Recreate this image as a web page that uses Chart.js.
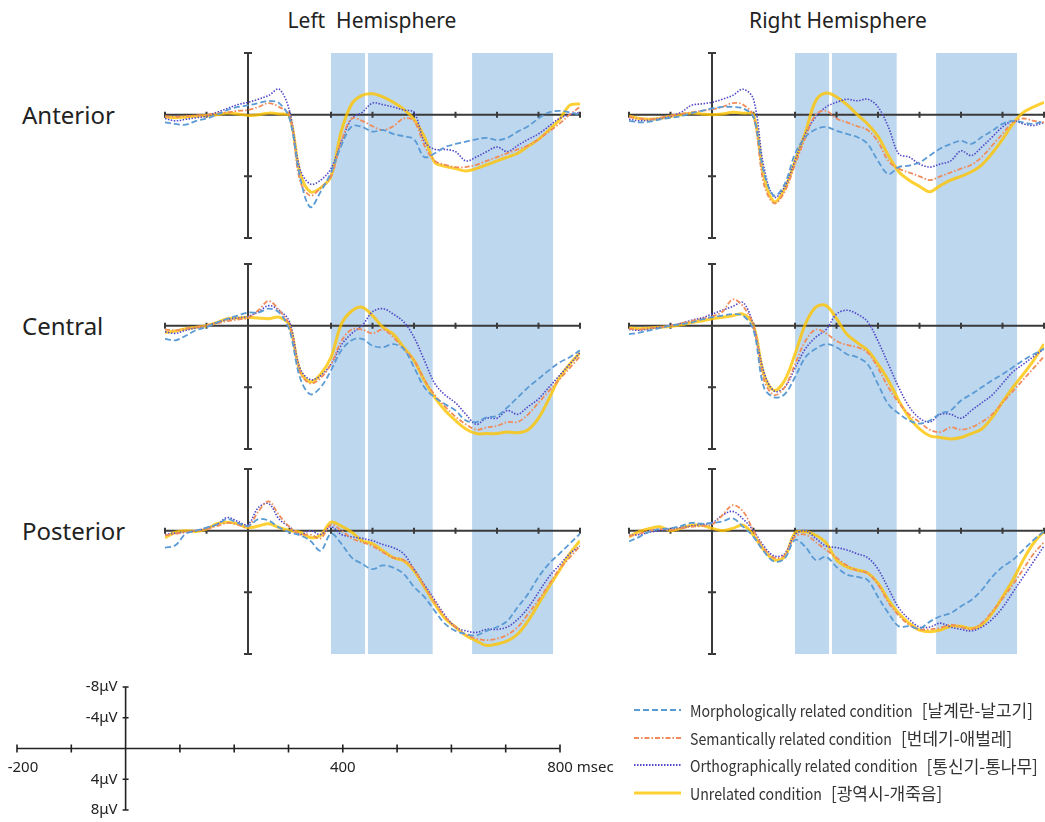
<!DOCTYPE html>
<html>
<head>
<meta charset="utf-8">
<script src="https://cdn.jsdelivr.net/npm/chart.js@4.4.1/dist/chart.umd.min.js"></script>
<style>
  body { margin: 0; width: 1045px; height: 822px; overflow: hidden; background: #fff; position: relative; font-family: "Noto Sans", sans-serif; color: #222; }
  .title { position: absolute; top: 20px; font-size: 21px; line-height: 1; white-space: pre; transform: translate(-50%, -50%); }
  .row { position: absolute; left: 22px; font-size: 24px; line-height: 1; transform: translateY(-50%); }
  canvas.panel { position: absolute; }
  #legend { position: absolute; left: 634px; top: 696px; font-family: "Noto Sans CJK KR", sans-serif; font-size: 16px; color: #333; }
  #legend .item { height: 27.7px; display: flex; align-items: center; white-space: nowrap; }
  #legend canvas { margin-right: 9px; }
  #legend .en { display: inline-block; transform-origin: left center; }
  #legend .ko { font-family: "Noto Sans CJK KR", sans-serif; font-size: 17px; margin-left: 9px; }
</style>
</head>
<body>
<div class="title" style="left:372px">Left  Hemisphere</div>
<div class="title" style="left:838px">Right Hemisphere</div>
<div class="row" style="top:115px">Anterior</div>
<div class="row" style="top:326px">Central</div>
<div class="row" style="top:531px">Posterior</div>

<canvas class="panel" id="la" width="431" height="206" style="left:157px;top:45px"></canvas>
<canvas class="panel" id="ra" width="431" height="206" style="left:621px;top:45px"></canvas>
<canvas class="panel" id="lc" width="431" height="208" style="left:157px;top:251px"></canvas>
<canvas class="panel" id="rc" width="431" height="208" style="left:621px;top:251px"></canvas>
<canvas class="panel" id="lp" width="431" height="203" style="left:157px;top:459px"></canvas>
<canvas class="panel" id="rp" width="431" height="203" style="left:621px;top:459px"></canvas>
<canvas class="panel" id="scale" width="620" height="152" style="left:0px;top:670px"></canvas>
<div id="legend"></div>

<script>
// time points (ms)
const times = [-200,-175,-150,-125,-100,-75,-50,-25,0,25,50,75,100,125,150,175,200,225,250,275,300,325,350,375,400,425,450,475,500,525,550,575,600,625,650,675,700,725,750,775,800];

const conditions = ['Morphologically related condition', 'Semantically related condition', 'Orthographically related condition', 'Unrelated condition'];
const wordPairs = ['[날계란-날고기]', '[번데기-애벌레]', '[통신기-통나무]', '[광역시-개죽음]'];

// analysis windows (ms)
const windowStarts = [200, 289, 540];
const windowEnds = [282, 445, 735];

const xTicks = [-200,-100,0,100,200,300,400,500,600,700,800];
const panelYTicks = [-8, 8, 16];
const scaleYTicks = [-8, -4, 4, 8];
const scaleYLabels = ['-8μV', '-4μV', '4μV', '8μV'];
const scaleXLabelValues = [-200, 400, 800];
const scaleXLabels = ['-200', '400', '800 msec'];

// left anterior
const laMorph = [1.0,1.2,1.3,0.8,0.5,0.0,-0.6,-1.0,-1.2,-1.5,-1.8,-1.5,0.5,8.0,12.0,10.0,7.5,4.0,1.5,1.6,2.2,2.0,2.5,2.8,3.2,5.5,5.0,4.2,3.8,3.5,3.2,3.0,3.3,3.0,2.2,1.5,0.5,-0.3,-0.5,-0.3,0.0];
const laSem = [0.2,0.3,0.2,0.1,0.0,-0.2,-0.3,-0.5,-0.6,-1.0,-1.5,-1.0,0.0,8.5,10.5,9.5,8.0,3.5,0.5,0.8,1.5,2.0,1.5,0.5,0.8,4.0,6.0,6.5,6.8,6.8,6.5,6.0,5.5,5.0,4.5,4.0,3.2,2.2,1.2,0.0,-1.0];
const laOrtho = [0.5,0.8,0.6,0.4,0.2,-0.3,-0.8,-1.3,-1.6,-2.0,-2.5,-3.3,-0.5,7.0,9.0,8.5,7.0,3.5,0.5,-0.3,-1.5,-1.3,-1.0,-0.6,-0.3,3.5,4.5,4.5,4.8,6.0,5.5,4.8,4.2,4.8,4.0,3.2,2.5,1.5,0.5,0.0,-0.3];
const laUnrel = [0.3,0.4,0.3,0.2,0.1,0,-0.2,-0.1,0.1,0,-0.2,-0.1,0.2,7.5,10.0,9.5,8.0,2.1,-1.4,-2.5,-2.7,-2.3,-1.6,-0.7,0.6,2.9,6.2,6.7,7.0,7.3,7.0,6.5,6.0,5.5,5.0,4.1,3.2,2.0,0.7,-1.2,-1.4];

// right anterior
const raMorph = [0.8,1.0,0.9,0.6,0.4,0.2,-0.2,-0.5,-0.8,-1.0,-1.0,-0.8,0.3,7.5,10.5,9.0,5.1,2.9,1.9,1.6,2.1,2.5,2.9,3.8,6.0,7.7,6.8,6.6,6.2,5.3,4.4,3.8,3.4,3.8,2.9,2.1,1.2,0.8,1.0,1.2,0.8];
const raSem = [0.3,0.5,0.6,0.4,0.1,-0.1,-0.3,-0.5,-0.7,-1.0,-1.5,-1.3,0.2,9.0,11.5,10.0,6.5,3.0,0.0,-0.5,0.5,1.0,1.5,2.0,3.5,6.0,7.0,7.5,8.0,8.5,8.0,7.5,7.0,6.5,5.5,4.0,2.5,1.0,0.5,0.8,1.0];
const raOrtho = [0.6,0.8,0.7,0.5,0.2,-0.3,-1.2,-1.4,-1.6,-2.0,-2.5,-3.3,-2.0,6.8,10.7,9.4,6.0,2.5,0.3,-1.0,-1.6,-2.0,-1.8,-2.0,-1.0,1.6,5.1,5.5,6.4,6.8,6.4,6.0,4.7,5.3,4.2,2.9,1.6,0.8,1.2,1.4,1.0];
const raUnrel = [0.2,0.5,0.6,0.5,0.2,0.0,-0.2,-0.1,0.0,-0.1,-0.3,-0.2,0.0,8.0,11.3,9.6,6.0,2.3,-1.8,-2.8,-2.3,-1.3,0.0,1.2,2.8,5.3,7.4,8.5,9.3,10.0,9.2,8.5,8.0,7.4,6.5,5.0,3.2,1.2,-0.3,-1.0,-1.6];

// left central
const lcMorph = [1.7,1.9,1.3,0.6,0.2,-0.4,-0.9,-1.3,-1.7,-1.7,-2.2,-1.7,0.6,6.7,8.9,8.0,5.8,3.2,1.9,1.7,2.6,2.8,2.4,3.0,5.4,8.0,9.3,10.2,11.0,12.3,12.5,11.9,11.7,10.6,9.3,8.0,6.9,5.8,4.8,4.1,3.2];
const lcSem = [0.5,0.6,0.4,0.2,0.0,-0.3,-0.6,-0.8,-1.0,-2.0,-3.2,-2.0,0.0,6.0,7.5,6.8,5.0,2.0,0.5,0.5,1.0,0.5,1.5,3.0,4.5,7.0,9.0,10.5,11.8,12.8,13.5,13.2,13.0,12.5,12.5,11.5,10.0,8.5,7.0,5.5,4.0];
const lcOrtho = [0.8,1.0,0.6,0.3,0.0,-0.4,-0.8,-1.0,-1.2,-1.8,-2.6,-2.0,-0.5,5.5,7.0,6.5,5.0,2.5,1.0,0.0,-1.8,-2.2,-1.5,-0.5,1.5,4.5,7.5,9.0,10.0,11.5,12.8,12.0,12.0,11.0,11.5,10.5,9.5,8.0,6.5,5.0,3.5];
const lcUnrel = [0.9,0.7,0.4,0.2,0.0,-0.4,-0.9,-1.0,-1.1,-1.0,-0.9,-1.1,0.0,5.8,7.3,6.3,4.1,-0.2,-1.9,-2.4,-1.3,0.2,1.1,2.8,4.5,7.1,9.3,11.0,12.3,13.4,14.0,14.0,14.0,13.8,13.9,13.5,12.0,9.5,6.8,5.0,3.5];

// right central
const rcMorph = [1.1,0.9,0.6,0.3,0.0,-0.2,-0.4,-0.8,-1.1,-1.3,-1.5,-1.3,0.6,8.0,9.3,8.9,6.7,4.1,3.0,2.4,2.8,3.7,4.1,5.0,7.6,10.2,11.4,12.3,12.7,12.3,11.4,11.0,9.7,8.9,8.0,7.1,6.3,5.4,4.5,3.7,3.0];
const rcSem = [0.4,0.5,0.3,0.2,0.0,-0.3,-0.6,-0.9,-1.2,-1.8,-3.4,-2.5,0.0,7.0,9.0,8.0,5.0,2.0,0.5,1.0,2.0,2.5,2.8,3.5,5.5,8.0,10.0,11.5,12.5,13.5,13.8,13.2,13.5,13.2,12.5,11.5,10.0,8.5,7.0,5.5,4.0];
const rcOrtho = [0.5,0.6,0.4,0.2,0.0,-0.3,-0.7,-1.0,-1.5,-2.0,-2.5,-3.0,0.0,6.0,8.5,8.0,5.5,3.0,1.5,0.5,-1.5,-2.0,-1.5,-0.5,2.0,5.0,8.0,10.5,12.0,12.5,11.5,11.5,12.0,11.0,10.0,9.0,7.5,6.0,5.0,4.0,3.0];
const rcUnrel = [0.3,0.4,0.3,0.2,0.1,-0.1,-0.4,-0.6,-0.9,-1.1,-1.3,-1.5,0.0,6.3,8.4,7.1,3.7,-0.2,-2.4,-2.6,-0.9,1.1,2.2,3.2,5.0,7.1,9.7,11.9,13.4,14.3,14.5,14.7,14.5,14.0,13.4,11.9,9.9,8.0,6.3,4.5,2.4];

// left posterior
const lpMorph = [2.2,1.9,0.4,0.0,-0.4,-0.8,-1.5,-1.0,-0.6,-1.5,-1.3,-0.4,0.2,0.6,1.3,2.6,0.4,1.7,3.5,4.3,5.0,4.5,4.8,5.6,7.3,8.6,10.4,12.1,13.0,13.4,13.6,13.0,12.5,11.7,9.9,8.2,6.0,4.3,3.0,1.7,0.4];
const lpSem = [0.6,0.4,0.2,0.0,-0.2,-0.6,-1.0,-0.8,-0.5,-2.5,-3.8,-2.0,-0.5,0.5,0.5,1.0,-0.8,0.0,1.0,1.5,2.0,2.8,3.5,3.8,5.0,7.2,9.3,11.2,12.5,13.5,14.0,14.2,14.0,13.5,12.5,10.8,9.0,7.0,5.0,3.5,2.0];
const lpOrtho = [0.5,0.3,0.2,0.0,-0.3,-0.8,-1.7,-1.2,-0.8,-3.0,-3.5,-1.5,-0.5,0.5,0.0,0.5,-0.5,0.5,0.8,1.0,1.3,1.8,2.2,3.0,5.0,7.0,9.0,11.0,12.5,13.0,13.2,12.8,12.8,12.5,11.5,10.0,8.0,6.0,4.5,3.0,2.0];
const lpUnrel = [0.9,0.2,0.0,0.1,-0.2,-0.9,-1.1,-0.9,-0.4,-0.6,-0.9,-0.4,0.0,0.2,0.9,0.6,-1.1,-0.6,0.2,1.3,1.7,2.6,3.5,3.9,5.2,7.3,9.5,11.4,12.5,13.6,14.3,14.9,14.7,14.3,13.4,11.7,9.5,7.3,5.2,3.0,1.3];

// right posterior
const rpMorph = [1.4,0.8,0.1,-0.2,-0.3,-0.6,-1.0,-0.9,-1.0,-1.2,-1.6,-0.5,0.8,2.7,4.0,3.6,1.2,2.1,3.8,3.4,4.7,5.7,6.0,6.4,8.6,10.7,12.4,12.4,12.7,11.8,11.1,10.7,9.8,9.0,7.7,6.0,4.7,3.8,2.5,1.2,0.1];
const rpSem = [0.7,0.4,0.0,-0.2,-0.1,-0.3,-0.5,-0.6,-0.8,-2.0,-3.3,-2.5,0.0,2.3,3.5,3.2,0.8,0.5,1.5,2.5,3.5,4.5,5.2,5.5,7.0,9.3,11.0,12.2,12.8,12.8,12.6,12.2,12.5,12.8,12.0,10.5,8.8,7.0,5.0,3.0,1.5];
const rpOrtho = [0.6,0.5,0.2,0.0,-0.2,-0.4,-0.6,-0.8,-1.0,-2.0,-2.5,-1.5,0.0,2.0,3.3,3.0,0.5,0.0,1.0,2.0,2.2,2.5,3.0,3.5,5.0,7.5,10.0,11.5,12.5,12.5,12.0,12.5,12.8,13.0,12.5,11.5,10.0,8.0,6.0,4.0,2.0];
const rpUnrel = [0.8,0.1,-0.3,-0.5,0.0,-0.3,-0.7,-0.7,-0.3,0.0,-0.3,-0.7,0.6,2.5,3.8,3.4,0.3,0.1,0.6,1.6,3.8,4.7,5.1,5.5,6.8,9.0,10.7,12.0,12.9,13.1,12.9,12.4,12.4,12.7,12.2,10.7,8.6,6.4,3.8,1.6,0.1];

// line styles per condition
const lineColors = ['#5b9bd5', '#f08c5a', '#5048c8', 'rgba(255,196,0,0.8)'];
const lineDashes = [[6, 3], [5, 2, 1.5, 2], [1.5, 1.5], []];
const lineWidths = [1.8, 1.8, 1.6, 3];
const bandColor = '#bdd7ee';
const axisColor = '#3a3a3a';

function bandsPlugin(topMode, bottomMode) {
  return {
    id: 'bands',
    beforeDatasetsDraw(chart) {
      const { ctx, chartArea, scales: { x } } = chart;
      const top = topMode === 'area' ? chartArea.top : 0;
      const bottom = bottomMode === 'area' ? chartArea.bottom : chart.height;
      ctx.save();
      ctx.fillStyle = bandColor;
      windowStarts.forEach((s, i) => {
        const x1 = x.getPixelForValue(s), x2 = x.getPixelForValue(windowEnds[i]);
        ctx.fillRect(x1, top, x2 - x1, bottom - top);
      });
      ctx.restore();
    }
  };
}

// axes crossing at 0 ms / 0 µV
const crossAxes = {
  id: 'crossAxes',
  beforeDatasetsDraw(chart) {
    const { ctx, scales: { x, y } } = chart;
    const x0 = x.getPixelForValue(0), y0 = y.getPixelForValue(0);
    ctx.save();
    ctx.strokeStyle = axisColor;
    ctx.lineWidth = 2;
    ctx.beginPath();
    ctx.moveTo(x.getPixelForValue(-200), y0);
    ctx.lineTo(x.getPixelForValue(800), y0);
    ctx.moveTo(x0, y.getPixelForValue(-8));
    ctx.lineTo(x0, y.getPixelForValue(16));
    xTicks.forEach(t => {
      const px = x.getPixelForValue(t);
      ctx.moveTo(px, y0 - 3);
      ctx.lineTo(px, y0 + 3);
    });
    panelYTicks.forEach(v => {
      const py = y.getPixelForValue(v);
      ctx.moveTo(x0 - 4, py);
      ctx.lineTo(x0 + 4, py);
    });
    ctx.stroke();
    ctx.restore();
  }
};

function makePanel(id, series, padding, topMode, bottomMode) {
  new Chart(document.getElementById(id), {
    type: 'line',
    data: {
      datasets: series.map((vals, i) => ({
        label: conditions[i],
        data: times.map((t, k) => ({ x: t, y: vals[k] })),
        borderColor: lineColors[i],
        borderDash: lineDashes[i],
        borderWidth: lineWidths[i],
        pointRadius: 0,
        tension: 0.35,
        fill: false
      }))
    },
    options: {
      responsive: false,
      animation: false,
      devicePixelRatio: 1,
      layout: { padding: padding },
      plugins: { legend: { display: false }, tooltip: { enabled: false } },
      scales: {
        x: { type: 'linear', min: -200, max: 800, display: false },
        y: { type: 'linear', min: -8, max: 16, reverse: true, display: false }
      }
    },
    plugins: [bandsPlugin(topMode, bottomMode), crossAxes]
  });
}

const pad1 = { left: 8, right: 8, top: 8, bottom: 13 };
const pad2 = { left: 8, right: 8, top: 13, bottom: 10 };
const pad3 = { left: 8, right: 8, top: 10, bottom: 8 };
makePanel('la', [laMorph, laSem, laOrtho, laUnrel], pad1, 'area', 'canvas');
makePanel('ra', [raMorph, raSem, raOrtho, raUnrel], pad1, 'area', 'canvas');
makePanel('lc', [lcMorph, lcSem, lcOrtho, lcUnrel], pad2, 'canvas', 'canvas');
makePanel('rc', [rcMorph, rcSem, rcOrtho, rcUnrel], pad2, 'canvas', 'canvas');
makePanel('lp', [lpMorph, lpSem, lpOrtho, lpUnrel], pad3, 'canvas', 'area');
makePanel('rp', [rpMorph, rpSem, rpOrtho, rpUnrel], pad3, 'canvas', 'area');

// calibration scale (bottom left)
const scaleAxes = {
  id: 'scaleAxes',
  afterDraw(chart) {
    const { ctx, scales: { x, y } } = chart;
    const x0 = x.getPixelForValue(0), y0 = y.getPixelForValue(0);
    ctx.save();
    ctx.strokeStyle = '#222';
    ctx.lineWidth = 1.6;
    ctx.beginPath();
    ctx.moveTo(x.getPixelForValue(-200), y0);
    ctx.lineTo(x.getPixelForValue(800), y0);
    ctx.moveTo(x0, y.getPixelForValue(-8));
    ctx.lineTo(x0, y.getPixelForValue(8));
    xTicks.forEach(t => {
      const px = x.getPixelForValue(t);
      ctx.moveTo(px, y0 - 4);
      ctx.lineTo(px, y0 + 4);
    });
    scaleYTicks.forEach(v => {
      const py = y.getPixelForValue(v);
      ctx.moveTo(x0 - 3, py);
      ctx.lineTo(x0 + 3, py);
    });
    ctx.stroke();
    ctx.fillStyle = '#222';
    ctx.font = '15px "Noto Sans"';
    ctx.textBaseline = 'middle';
    ctx.textAlign = 'right';
    scaleYTicks.forEach((v, i) => ctx.fillText(scaleYLabels[i], x0 - 8, y.getPixelForValue(v)));
    ctx.textAlign = 'left';
    scaleXLabelValues.forEach((v, i) => {
      const num = scaleXLabels[i].split(' ')[0];
      const w = ctx.measureText(num).width;
      ctx.fillText(scaleXLabels[i], x.getPixelForValue(v) - w / 2 + (i === 0 ? 6 : 0), y0 + 19);
    });
    ctx.restore();
  }
};

new Chart(document.getElementById('scale'), {
  type: 'line',
  data: { datasets: [] },
  options: {
    responsive: false,
    animation: false,
    devicePixelRatio: 1,
    layout: { padding: { left: 17, right: 60, top: 17, bottom: 12 } },
    plugins: { legend: { display: false }, tooltip: { enabled: false } },
    scales: {
      x: { type: 'linear', min: -200, max: 800, display: false },
      y: { type: 'linear', min: -8, max: 8, reverse: true, display: false }
    }
  },
  plugins: [scaleAxes]
});

// legend (bottom right)
const legend = document.getElementById('legend');
const squeeze = 0.885;
conditions.forEach((name, i) => {
  const item = document.createElement('div');
  item.className = 'item';
  const c = document.createElement('canvas');
  c.width = 47; c.height = 8;
  const g = c.getContext('2d');
  g.strokeStyle = lineColors[i];
  g.lineWidth = i === 3 ? 3 : 2;
  g.setLineDash(lineDashes[i]);
  g.beginPath(); g.moveTo(0, 4); g.lineTo(47, 4); g.stroke();
  item.appendChild(c);
  const label = document.createElement('span');
  label.className = 'en';
  label.textContent = name;
  item.appendChild(label);
  const ko = document.createElement('span');
  ko.className = 'ko';
  ko.textContent = wordPairs[i];
  item.appendChild(ko);
  legend.appendChild(item);
  const w = label.getBoundingClientRect().width;
  label.style.transform = 'scaleX(' + squeeze + ')';
  label.style.marginRight = (-(1 - squeeze) * w) + 'px';
});
</script>
</body>
</html>
